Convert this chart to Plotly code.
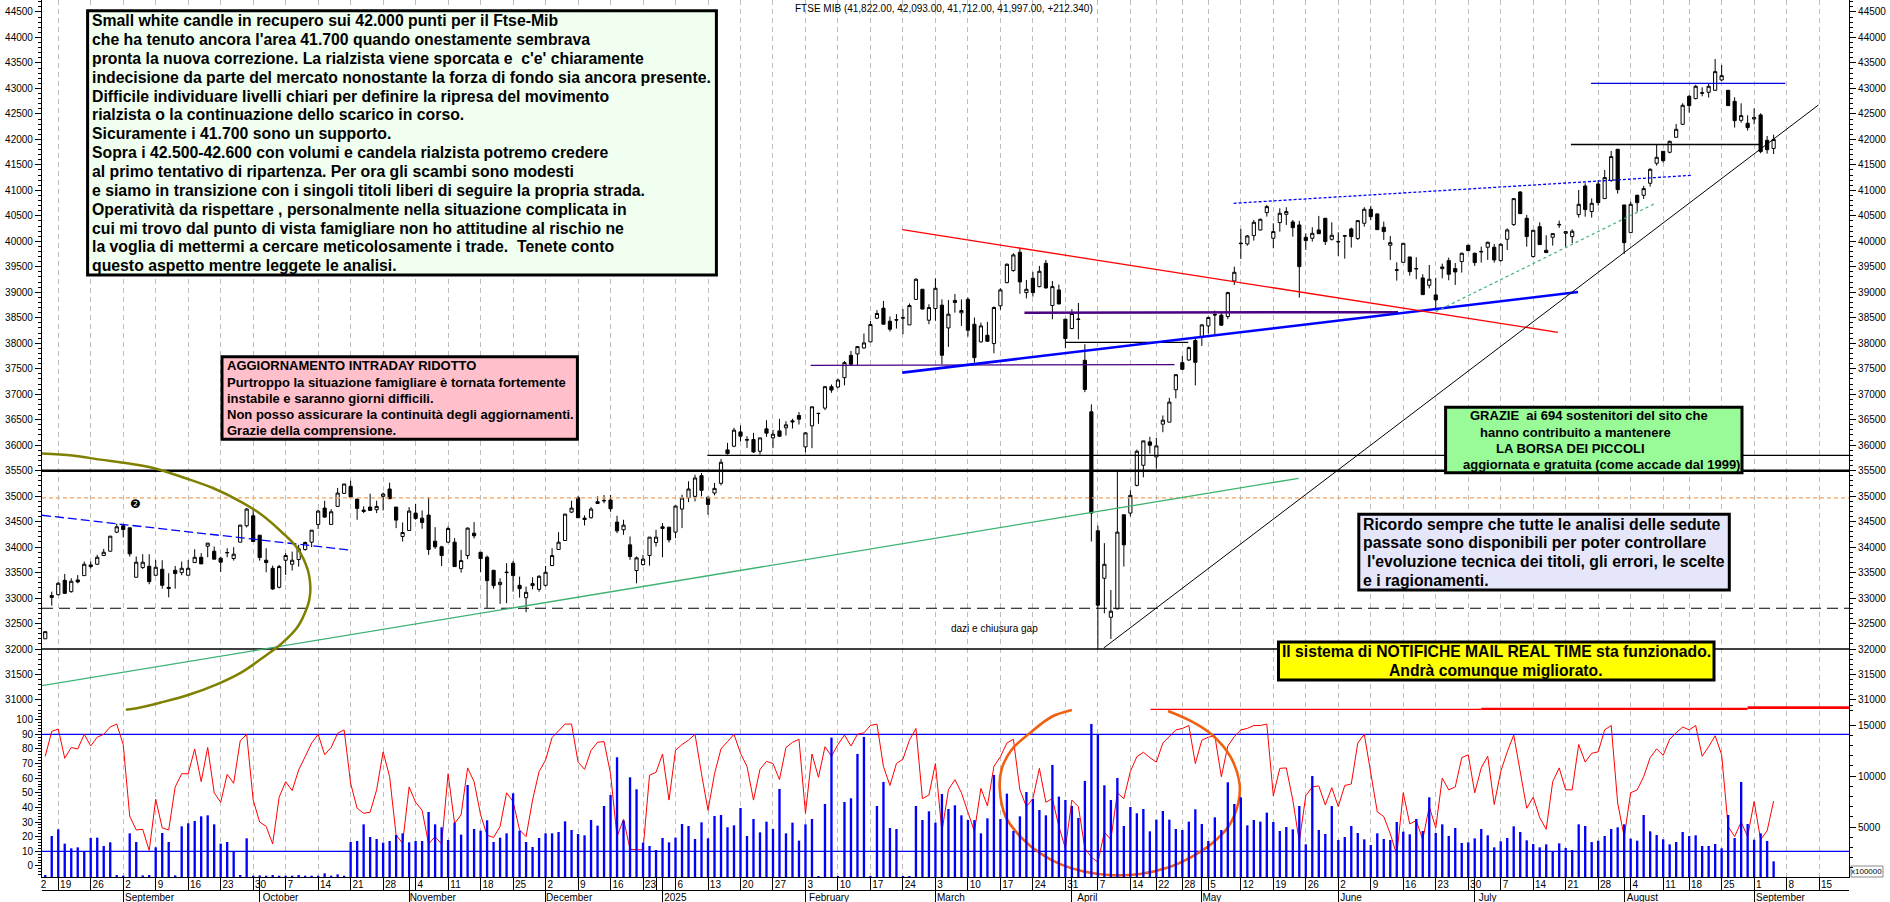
import plotly.graph_objects as go

# ---------- daily data ----------
opens = [32200,33010,33066,33348,33125,33355,33440,33650,33663,33834,33919,34293,34418,34378,33407,33598,33624,33447,33565,33210,
33545,33499,33447,33696,33800,34017,33919,33781,33885,33775,34096,34418,34614,34234,33742,33584,33211,33742,33663,33755,
33952,34096,34444,34765,34444,34798,35054,35192,34942,34726,34785,34733,34995,35139,34785,34208,34326,34667,34568,34628,
34116,34004,34096,34096,33578,33834,34273,33899,33801,33545,33263,33510,33683,33250,33007,33244,33171,33250,33637,33952,
34129,34686,34969,34568,34575,34890,34905,34923,34490,34339,34044,33539,33657,33834,34090,34398,34391,34293,34746,34969,
34995,35401,34975,35060,35251,35907,35979,36260,36110,36110,35880,36320,36143,36280,36340,36477,36582,35966,36379,36625,
36727,37147,37140,37324,37763,37790,37907,38026,38491,38688,38432,38462,38502,38360,38860,39059,38452,38680,38747,38300,
38840,38596,38860,38373,38026,38157,37993,38734,39189,39426,39785,38993,39275,39111,39569,38740,39046,38472,38288,38476,
37665,36655,34320,33388,32623,32787,34634,34667,35211,35605,36064,35769,36412,36451,37087,37619,37671,38052,38117,38340,
38565,38551,38524,39222,39965,39948,40112,40223,40563,40060,40367,40530,40380,40321,40079,40059,40223,40452,40040,39998,
40101,40243,40053,40354,40628,40537,40275,39922,39442,39588,39693,39468,39281,39137,38948,39464,39621,39464,39602,39922,
39765,39802,39883,39883,39621,40040,40328,40968,40452,39700,40288,39824,40079,40332,40157,40092,40524,41086,40583,41125,
40838,41191,41806,40713,40170,40903,40903,41139,41531,41766,41747,42041,42296,42845,42800,42915,42924,42963,43166,42963,
42747,42374,42316,42400,42479,41982,41822]
highs = [32345,33125,33320,33473,33388,33450,33716,33716,33847,33965,34214,34457,34457,34378,33814,33860,33860,33748,33742,33486,
33630,33716,33748,33958,33880,34077,34011,33810,33978,33998,34431,34765,34765,34234,33978,33637,33650,33880,33912,34044,
34110,34332,34732,34909,34745,35159,35238,35303,34942,34798,35047,34909,35070,35264,34785,34483,34785,34850,34719,34982,
34391,34024,34404,34175,33945,34385,34490,33899,33834,33545,33388,33683,33729,33420,33224,33407,33447,33630,33978,34293,
34653,34909,35000,34621,34785,34995,35021,35021,34614,34536,34208,33814,33847,34195,34339,34470,34391,34818,35028,35290,
35421,35454,34995,35257,35730,36044,36340,36386,36175,36241,36143,36490,36300,36517,36470,36517,36648,36255,36753,36635,
37160,37190,37305,37650,37849,37934,38190,38439,38649,38830,38524,38570,38670,38780,39275,39059,38765,39275,38860,38850,
38967,38860,38900,38505,38405,38419,38720,39078,39569,39765,39863,39242,39399,39517,39634,39222,39150,38472,38670,38790,
37980,36800,34420,34077,33158,35487,34634,35113,35913,36084,36163,36143,36582,36930,37383,37750,37934,38111,38373,38525,
38640,38617,39010,39503,40243,40125,40419,40445,40714,40354,40648,40668,40419,40400,40157,40275,40498,40452,40373,40177,
40125,40269,40419,40668,40695,40550,40386,40105,39588,39961,39693,39686,39353,39536,39283,39562,39680,39575,39778,39929,
39778,39896,39994,39948,39961,40255,40845,40981,40517,40223,40373,40118,40157,40406,40203,40236,41008,41138,40842,41204,
41400,41773,41806,40713,40779,40916,41086,41433,41904,41766,41975,42303,42708,42871,43068,43022,43087,43578,43460,42963,
42826,42708,42473,42610,42512,42067,42093]
lows = [32195,32850,33050,33079,33105,33289,33440,33580,33650,33834,33910,34273,34188,33814,33407,33571,33270,33435,33184,33014,
33184,33447,33447,33696,33670,33800,33762,33512,33800,33735,34096,34385,34109,33735,33506,33158,33190,33453,33539,33617,
33930,33998,34352,34575,34444,34798,35048,34969,34536,34667,34720,34667,34719,34942,34372,34109,34320,34536,34359,33847,
33965,33630,34077,33617,33499,33762,34168,33506,32807,33185,32886,32900,33125,33007,32722,33171,33125,33224,33637,33952,
34129,34667,34575,34424,34562,34850,34860,34693,34273,34240,33749,33289,33637,33637,34011,33801,34090,34175,34372,34883,
34896,34995,34634,35015,35211,35815,35960,36077,35946,35850,35815,36163,35940,36163,36189,36326,36405,35860,35940,36418,
36687,37028,37115,37173,37573,37573,37895,38026,38472,38373,38229,38288,38176,38360,38860,38670,38373,38439,37586,37927,
38600,38340,38130,37620,38013,38026,37803,38655,39176,39405,38970,38880,38915,39098,39072,38470,38770,37900,38275,38078,
37040,34109,32000,32700,32197,32787,33617,34601,35191,35369,35835,35539,36254,36451,36917,37475,37651,37173,37947,38190,
38180,38340,38472,39144,39654,39915,40014,40210,40484,39863,40190,40321,40092,38895,39830,39994,40143,39928,40014,39713,
39660,39876,40027,40288,40419,40222,40027,39634,39229,39588,39327,39255,38954,39078,38668,39274,39235,39144,39386,39804,
39517,39582,39634,39582,39602,39830,40302,40536,39896,39680,39928,39778,39915,40262,39896,39961,40465,40484,40465,40700,
40838,41170,40935,39752,40170,40583,40831,41073,41485,41544,41727,42041,42283,42525,42787,42845,42819,42957,43146,42656,
42231,42328,42172,42296,41727,41720,41712]
closes = [32340,33050,33289,33092,33329,33316,33663,33617,33800,33899,34214,34398,34345,33867,33703,33703,33322,33604,33250,33190,
33480,33584,33584,33800,33670,34077,33762,33703,33893,33860,34431,34746,34109,33794,33696,33178,33617,33834,33742,33965,
34090,34332,34706,34588,34693,35060,35238,34982,34759,34700,34720,34798,35041,34949,34529,34286,34706,34562,34483,33952,
34004,33834,34365,33617,33735,34372,34221,33775,33342,33244,33309,33500,33440,33184,33112,33283,33427,33506,33834,34096,
34647,34765,34575,34542,34746,34857,34915,34752,34319,34431,33814,33788,33762,34195,34195,34365,34142,34805,34962,35139,
35356,35113,34837,35152,35664,35835,36294,36176,36100,35867,36143,36235,36215,36175,36399,36458,36510,36241,36753,36620,
37147,37081,37278,37619,37586,37934,38006,38367,38583,38373,38275,38455,38494,38740,39255,38670,38700,39078,37763,38570,
38800,38642,38255,37717,38340,38039,38701,39046,39549,39733,39203,39059,38993,39412,39085,39111,38770,38091,38583,38468,
37094,34667,32860,33663,32741,34293,34044,35015,35880,36084,35998,35985,36490,36845,37383,37488,37914,37625,38360,38505,
38555,38354,38993,39392,39955,40105,40373,40432,40681,40190,40550,40583,40268,39504,40014,40157,40150,39994,40118,39990,
40109,40092,40406,40628,40484,40229,40190,39974,39434,39961,39405,39460,38954,39255,38850,39497,39353,39399,39765,39817,
39582,39794,39981,39634,39942,40223,40838,40543,40092,40216,39935,39778,40151,40324,40190,40197,40726,40622,40746,40759,
41250,41662,41014,39974,40726,40759,41034,41413,41649,41583,41962,42198,42669,42662,43042,42907,43042,43329,43251,42662,
42368,42466,42231,42427,41760,41799,41997]
volumes = [279,4116,4772,3362,2903,3001,2575,3920,3952,3132,3493,279,213,4379,3526,246,279,3001,4412,3526,
246,5068,5363,5592,6052,6150,5264,3362,3526,2542,279,3887,213,246,213,279,213,213,213,279,
213,213,213,443,213,344,213,3526,3624,5264,4018,3821,3460,3624,4215,4379,3493,3624,3624,6478,
5264,4969,3723,5428,4248,9135,4805,4641,5658,3526,3952,4379,8315,4641,3526,3034,3920,4379,4379,4510,
5560,4707,4313,4182,5691,5133,7068,8151,11857,5625,9889,8708,3460,3132,2739,3920,3493,3952,5297,5100,
3821,5461,3887,6084,6183,4969,5166,6872,4116,5789,4477,5527,4805,8741,4379,5428,3657,5264,5789,180,
7265,13792,180,7462,7823,12185,13858,180,7068,9430,4904,4805,180,180,7068,5691,6544,5428,8249,6773,
7134,6150,5691,5691,4379,5855,10119,5789,8282,4608,6052,8446,7757,6675,6150,11103,7987,7659,7068,5888,
9528,15137,14120,9102,7659,9824,5100,6970,6347,6773,4576,5724,6576,5724,4805,4707,5527,6740,5297,3624,
5953,4707,9397,7265,7921,5166,5691,5527,6412,5494,4608,5002,4772,7068,3296,10020,4707,4313,7068,3723,
4018,5100,4412,3788,3231,4379,3821,3723,5494,4543,4280,5789,4608,7921,4412,5264,4116,4904,3428,3493,
3887,4805,4182,3001,3592,3920,5068,4510,3690,3329,3001,3296,2575,3395,2936,2739,5264,5100,3526,3657,
4116,4805,4969,5264,3854,3657,6183,4576,4215,3788,3296,3526,4510,4116,4182,3132,3132,3329,2903,6183,
3920,9430,5297,3756,4379,3624,1624]
oscillator = [75,92,93.6,73.6,81,80,90,82,88,90,95,97,83,34,24.6,25,10.5,45.6,26,24.6,
54,63,63,80,57.6,81,50,43.5,62.6,56.5,85.4,90,45,30,27,15,47,57.6,51.5,65.6,
74.7,84,90,76,81,90.7,93,56.5,39.4,36,36.7,52,78,61,21,15.5,54,43.5,38,15,
20,15,63,29,35,67,57.6,35,21,19.4,27,50,44,24.6,20,45,64.5,72.4,87.7,92,
97,97,71,66,79,84.5,85,63,20,32,11.4,11,11,62,64,76.5,45,79,83,86,
90,63,38,63,80,85,90,77,68,45,66,71.5,70,59,81,84.5,86.6,36,76.5,60.6,
81.5,75,83,89.5,82,90,91,96,97,68,55,70,73,86,94,46,48.5,70,23.5,52,
59,50,36,23.5,53,41,68,74.7,84,86.6,52,40.5,46,66.7,43.5,46,27,12,45,40.5,
12,6,2.5,23,18,50,46,64.5,74.7,77.7,74,71,84,88.4,93,94,96,70,86,88,
89,61,82,88.4,93,94,96,96,97,48,66.7,67,45,16.6,48,54,54.7,41.7,53.5,40.5,
55,56,84,90,63,37,33.7,22,7.5,50,28.7,31,18,40.5,26,60,52,54,74,76,
50,67,75,42,64.5,78,89.5,63,39.4,47,33,25,57.6,67,52,52,83,71,77,78,
93,96,43,20,50,52,61,74,80,75.6,86.6,91,95,93,96,75,81.5,89,76,27,
20,30,20,44,18,24,44.4]
assert all(len(a) == 267 for a in (opens, highs, lows, closes, volumes, oscillator))

# ---------- axis labels ----------
week_pos = [2,7,12,17,22,27,32,37,42,47,52,57,62,67,72,77,82,87,92,97,102,107,112,117,122,127,132,137,142,147,152,157,162,167,171,175,179,184,189,194,199,204,209,214,219,224,229,234,239,244,249,253,258,263,268,273]
week_txt = ["19","26","2","9","16","23","30","7","14","21","28","4","11","18","25","2","9","16","23","6","13","20","27","3","10","17","24","3","10","17","24","31","7","14","22","28","5","12","19","26","2","9","16","23","30","7","14","21","28","4","11","18","25","1","8","15"]
month_pos = [12,33,56,77,95,117,137,158,178,199,220,243,263]
month_txt = ["September","October","November","December","2025","February","March","April","May","June","July","August","September"]
price_ticks = list(range(31000, 45000, 500))
osc_ticks = list(range(0, 101, 10))
vol_ticks = [5000, 10000, 15000]

# ---------- levels and trend lines (bar number, price) ----------
level_35500 = 35500; level_32000 = 32000; level_32800 = 32800; level_34950 = 34965; level_35800 = 35800
osc_high = 90; osc_low = 10
olive_x = [-0.5,4.2,8.5,12.9,17.2,21.5,25.8,30.2,33.3,36.3,38.8,40.4,40.8,40.7,40.4,38.8,36.3,33.9,30.2,26.5,22.1,17.8,14.1,12.4]
olive_y = [35835,35795,35716,35638,35533,35356,35159,34883,34634,34306,33978,33554,33225,33014,32853,32426,32098,31869,31541,31311,31101,30950,30839,30806]
orange_x = [158,154.9,151.8,148.7,147.2,146.9,147.8,150.3,153.1,156.1,159.8,164.2,168.5,172.8,176.5,179.6,182.1,183.6,183.8,182.4,179.6,176.5,172.8]
orange_y = [106.6,102,91.8,79.3,66.3,53,33.7,19,8.7,1.4,-3.9,-6.4,-5.5,-1.1,6.4,15.5,26.9,42.8,56.4,74.7,89.5,98.6,105.9]

X0, X1 = -0.5, 277.6
trends = [
    ([X0, X1], [level_32000]*2, "black", 1.5, "solid"),
    ([X0, X1], [level_35500]*2, "black", 2.5, "solid"),
    ([101.9, X1], [level_35800]*2, "black", 1.2, "solid"),
    ([X0, X1], [level_34950]*2, "#F4A460", 1.2, "4px,3px"),
    ([X0, X1], [level_32800]*2, "black", 1.2, "11px,6px"),
    ([237.9, 267.8], [43100, 43100], "#0000E0", 1.2, "solid"),
    ([234.8, 263.9], [41900, 41900], "black", 1.5, "solid"),
    ([150.7, 208.2], [38600, 38610], "#4B0082", 2.5, "solid"),
    ([117.8, 149.6, 173.8], [37567, 37567, 37580], "#4B0082", 1.2, "solid"),
    ([157, 175.9], [38015, 38015], "black", 1.2, "solid"),
    ([131.9, 235.9], [37423, 39005], "#0000FF", 2.6, "solid"),
    ([131.9, 232.8], [40228, 38214], "#FF0000", 1.3, "solid"),
    ([170.1, 221], [30815, 30815], "#FF0000", 1.3, "solid"),
    ([221, 262], [30825, 30825], "#FF0000", 2.2, "solid"),
    ([262, X1], [30850, 30850], "#FF0000", 2.8, "solid"),
    ([X0, 46.8], [34624, 33943], "#0000FF", 1.3, "9px,4px"),
    ([182.9, 253.5], [40746, 41295], "#0000FF", 1.3, "3px,2px"),
    ([X0, 192.9], [31280, 35350], "#3CB371", 1.3, "solid"),
    ([214, 247.6], [38620, 40733], "#3CB371", 1.2, "3px,3px"),
    ([162.9, 272.9], [32020, 42675], "black", 1, "solid"),
]

# ---------- text boxes ----------
box1 = ["Small white candle in recupero sui 42.000 punti per il Ftse-Mib",
"che ha tenuto ancora l'area 41.700 quando onestamente sembrava",
"pronta la nuova correzione. La rialzista viene sporcata e  c'e' chiaramente",
"indecisione da parte del mercato nonostante la forza di fondo sia ancora presente.",
"Difficile individuare livelli chiari per definire la ripresa del movimento",
"rialzista o la continuazione dello scarico in corso.",
"Sicuramente i 41.700 sono un supporto.",
"Sopra i 42.500-42.600 con volumi e candela rialzista potremo credere",
"al primo tentativo di ripartenza. Per ora gli scambi sono modesti",
"e siamo in transizione con i singoli titoli liberi di seguire la propria strada.",
"Operatività da rispettare , personalmente nella situazione complicata in",
"cui mi trovo dal punto di vista famigliare non ho attitudine al rischio ne",
"la voglia di mettermi a cercare meticolosamente i trade.  Tenete conto",
"questo aspetto mentre leggete le analisi."]
box2 = ["AGGIORNAMENTO INTRADAY RIDOTTO",
"Purtroppo la situazione famigliare è tornata fortemente",
"instabile e saranno giorni difficili.",
"Non posso assicurare la continuità degli aggiornamenti.",
"Grazie della comprensione."]
box3 = [("GRAZIE  ai 694 sostenitori del sito che", 1468), ("hanno contribuito a mantenere", 1478),
        ("LA BORSA DEI PICCOLI", 1494), ("aggiornata e gratuita (come accade dal 1999)", 1461)]
box4 = [("Ricordo sempre che tutte le analisi delle sedute", 1361), ("passate sono disponibili per poter controllare", 1361),
        ("l'evoluzione tecnica dei titoli, gli errori, le scelte", 1365), ("e i ragionamenti.", 1361)]
box5 = ["Il sistema di NOTIFICHE MAIL REAL TIME sta funzionado.", "Andrà comunque migliorato."]
headline = "FTSE MIB (41,822.00, 42,093.00, 41,712.00, 41,997.00, +212.340)"
note = "dazi e chiusura gap"

# ---------- geometry of the page ----------
W, H = 1890, 902
L, R, BOTTOM = 42, 1849, 877
FONT = "Liberation Sans"
def px(x): return (x - L) / (R - L)
def py(y): return (H - y) / H
bars = list(range(len(opens)))

fig = go.Figure()
fig.add_trace(go.Candlestick(x=bars, open=opens, high=highs, low=lows, close=closes,
    increasing=dict(line=dict(color="black", width=1), fillcolor="white"),
    decreasing=dict(line=dict(color="black", width=1), fillcolor="black"),
    whiskerwidth=0, hoverinfo="skip", showlegend=False))
for xs, ys, color, width, dash in trends:
    fig.add_trace(go.Scatter(x=xs, y=ys, mode="lines", line=dict(color=color, width=width, dash=dash), hoverinfo="skip", cliponaxis=True))
fig.add_trace(go.Scatter(x=olive_x, y=olive_y, mode="lines", line=dict(color="#808000", width=2.5, shape="spline"), hoverinfo="skip"))
fig.add_trace(go.Bar(x=bars, y=volumes, width=0.36, marker=dict(color="#0000FF", line=dict(width=0)), yaxis="y4", hoverinfo="skip"))
fig.add_trace(go.Scatter(x=[X0, X1], y=[osc_high]*2, mode="lines", line=dict(color="#0000FF", width=1.3), yaxis="y3", hoverinfo="skip"))
fig.add_trace(go.Scatter(x=[X0, X1], y=[osc_low]*2, mode="lines", line=dict(color="#0000FF", width=1.3), yaxis="y3", hoverinfo="skip"))
fig.add_trace(go.Scatter(x=bars, y=oscillator, mode="lines", line=dict(color="#FF0000", width=1), yaxis="y3", hoverinfo="skip"))
fig.add_trace(go.Scatter(x=orange_x, y=orange_y, mode="lines", line=dict(color="#F06010", width=2.6, shape="spline"), yaxis="y3", hoverinfo="skip"))
# axes that only carry labels need a trace of their own
fig.add_trace(go.Scatter(x=[X0], y=[0], xaxis="x2", yaxis="y3", mode="none", hoverinfo="skip"))
fig.add_trace(go.Scatter(x=[X0], y=[0], xaxis="x3", yaxis="y3", mode="none", hoverinfo="skip"))
fig.add_trace(go.Scatter(x=[X0], y=[0], xaxis="x4", yaxis="y3", mode="none", hoverinfo="skip"))
fig.add_trace(go.Scatter(x=[X0], y=[35000], yaxis="y2", mode="none", hoverinfo="skip"))

shapes, notes = [], []
def box(x0, x1, y0, y1, color):
    shapes.append(dict(type="rect", xref="paper", yref="paper", x0=px(x0), x1=px(x1), y0=py(y0), y1=py(y1),
                       fillcolor=color, line=dict(color="black", width=3), layer="above"))
def line_text(text, x, y, size, bold=True, anchor="left", color="black"):
    notes.append(dict(text=f"<b>{text}</b>" if bold else text, xref="paper", yref="paper", x=px(x), y=py(y),
                      xanchor=anchor, yanchor="middle", showarrow=False, font=dict(family=FONT, size=size, color=color)))

box(87.6, 716.4, 10.7, 275, "#F0FFF0")
for k, t in enumerate(box1):
    line_text(t, 89.5, 20.7 + k * 18.85, 15.8)
box(222, 577.4, 356.7, 439.3, "#FFC0CB")
for t, y in zip(box2, [365, 382.3, 398.7, 414.7, 431]):
    line_text(t, 225, y, 13)
box(1445.6, 1742, 407.3, 472.7, "#98FB98")
for (t, x), y in zip(box3, [415.5, 432.5, 448.5, 464.5]):
    line_text(t, x, y, 13)
box(1358.8, 1729.3, 514.3, 590, "#E6E6FA")
for (t, x), y in zip(box4, [524.3, 542.7, 561.7, 580.7]):
    line_text(t, x, y, 15.8)
box(1278.5, 1714, 642, 680, "#FFFF00")
for t, y in zip(box5, [651.7, 670.3]):
    line_text(t, 1496.3, y, 15.7, anchor="center")
line_text(headline, 944, 8.7, 10, bold=False, anchor="center")
line_text(note, 994, 629, 10, bold=False, anchor="center")
line_text("❷", 135, 504, 12, bold=False, anchor="center")
notes[-1]["font"]["family"] = "DejaVu Sans"
notes.append(dict(text="x100000", xref="paper", yref="paper", x=px(1867), y=py(871.7), xanchor="center", yanchor="middle",
                  showarrow=False, font=dict(family=FONT, size=8, color="black")))
shapes.append(dict(type="rect", xref="paper", yref="paper", x0=px(1851), x1=px(1883), y0=py(877), y1=py(866),
                   fillcolor="white", line=dict(color="#888888", width=1), layer="below"))

dom_low = (H - BOTTOM) / H
tick_font = dict(family=FONT, size=10, color="black")
label_offset = lambda t: (2 + 2.7 * len(t)) / 6.5
price_y = dict(range=[27526, 44735], domain=[dom_low, 1], tickmode="array", tickvals=price_ticks, tickformat="d", ticks="outside", ticklen=6,
               tickcolor="black", tickfont=tick_font, showgrid=False, zeroline=False, showline=True, linecolor="black", linewidth=1.2,
               minor=dict(tickmode="array", tickvals=list(range(30800, 44800, 100)), ticks="outside", ticklen=3, tickcolor="black", showgrid=False))
fig.update_layout(
    width=W, height=H, autosize=False, showlegend=False,
    margin=dict(l=L, r=W - R, t=0, b=0, pad=0),
    paper_bgcolor="white", plot_bgcolor="white", barmode="overlay",
    font=dict(family=FONT, color="black"), shapes=shapes, annotations=notes,
    xaxis=dict(range=[X0, X1], tickmode="array", tickvals=week_pos, showticklabels=False, ticks="outside", ticklen=13, tickcolor="black",
               showgrid=True, gridcolor="#BDBDBD", griddash="5px,4px", gridwidth=1, zeroline=False, showline=True, linecolor="black", linewidth=1.2,
               rangeslider=dict(visible=False), anchor="y",
               minor=dict(tickmode="array", tickvals=month_pos + [94], ticks="outside", ticklen=13, tickcolor="black", showgrid=False)),
    xaxis2=dict(range=[X0, X1], overlaying="x", anchor="y", tickmode="array",
                tickvals=[p + label_offset(t) for p, t in zip(week_pos, week_txt)] + [-0.25], ticktext=week_txt + ["2"],
                ticks="", ticklen=0, tickfont=tick_font, showgrid=False, zeroline=False, showline=False),
    xaxis3=dict(range=[X0, X1], overlaying="x", anchor="free", position=(H - 890) / H, tickmode="array", tickvals=month_pos,
                showticklabels=False, ticks="outside", ticklen=12, tickcolor="black", showgrid=False, zeroline=False,
                showline=True, linecolor="black", linewidth=1.2),
    xaxis4=dict(range=[X0, X1], overlaying="x", anchor="free", position=(H - 890) / H, tickmode="array",
                tickvals=[p + label_offset(t) for p, t in zip(month_pos, month_txt)], ticktext=month_txt,
                ticks="", ticklen=0, tickfont=tick_font, showgrid=False, zeroline=False, showline=False),
    yaxis=dict(side="left", **price_y),
    yaxis2=dict(side="right", overlaying="y", anchor="x", **price_y),
    yaxis3=dict(side="left", overlaying="y", anchor="x", range=[-7.59, 592.1], domain=[dom_low, 1], tickmode="array", tickvals=osc_ticks,
                ticks="outside", ticklen=6, tickcolor="black", tickfont=tick_font, showgrid=False, zeroline=False, showline=False,
                minor=dict(tickmode="array", tickvals=list(range(-6, 106, 2)), ticks="outside", ticklen=3, tickcolor="black", showgrid=False)),
    yaxis4=dict(side="right", overlaying="y", anchor="x", range=[84, 86317], domain=[dom_low, 1], tickmode="array", tickvals=vol_ticks, tickformat="d",
                ticks="outside", ticklen=6, tickcolor="black", tickfont=tick_font, showgrid=False, zeroline=False, showline=False,
                minor=dict(tickmode="array", tickvals=list(range(0, 16000, 1000)), ticks="outside", ticklen=3, tickcolor="black", showgrid=False)),
)
fig.write_html("out.html", config={"displayModeBar": False},
               post_script="document.body.style.margin='0';document.body.style.overflow='hidden';")
